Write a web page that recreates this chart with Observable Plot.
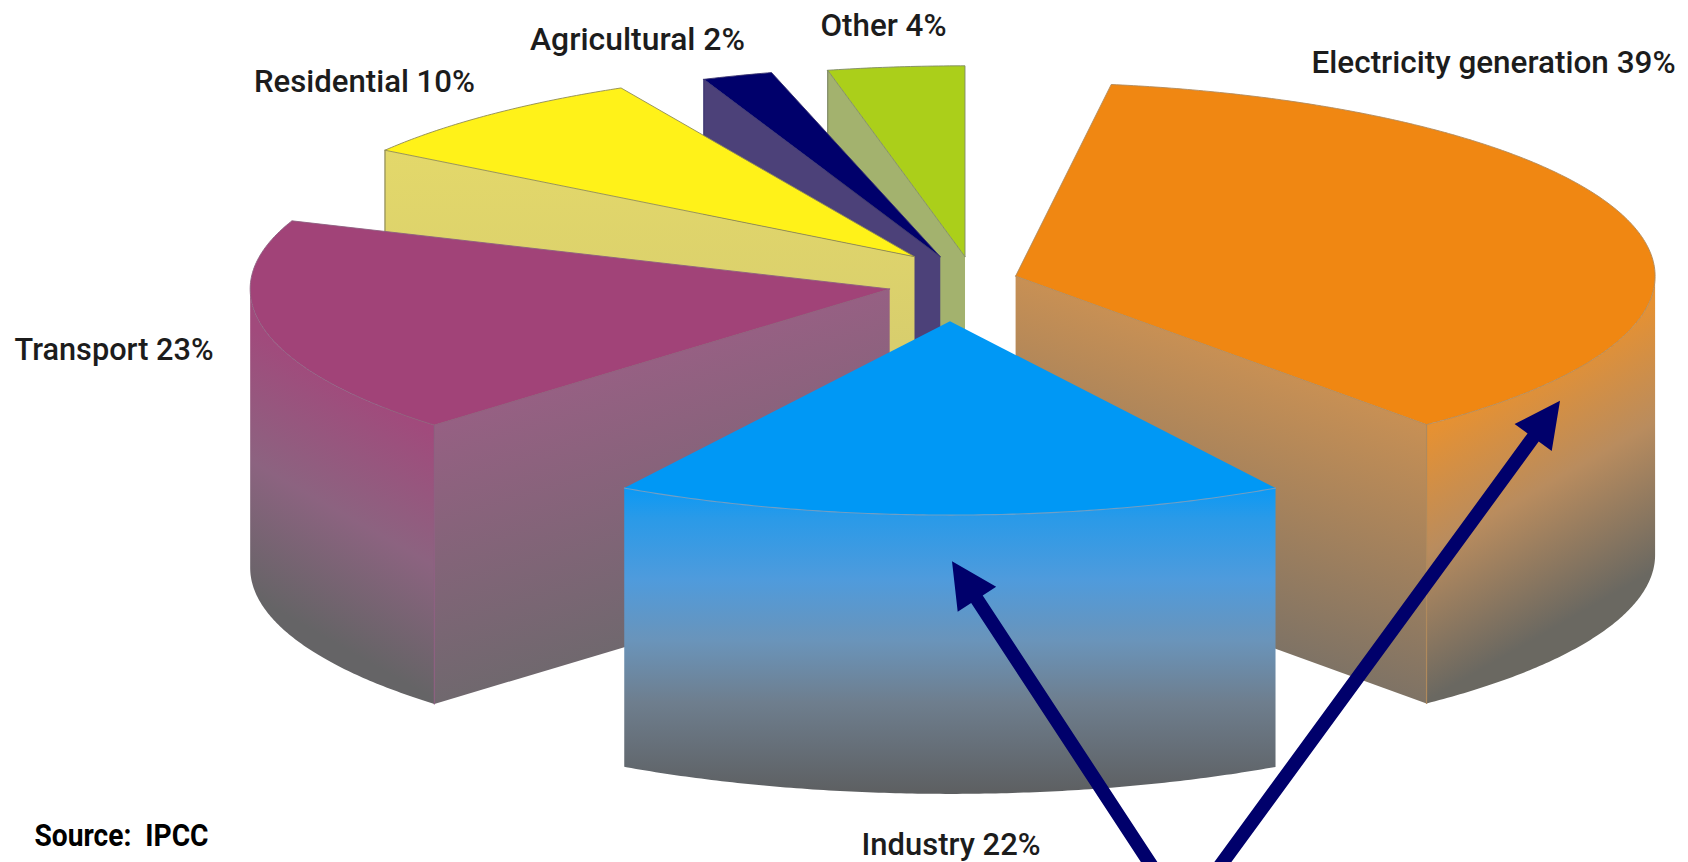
<!DOCTYPE html>
<html>
<head>
<meta charset="utf-8">
<title>Greenhouse gas emissions by sector</title>
<script src="https://cdn.jsdelivr.net/npm/d3@7"></script>
<script src="https://cdn.jsdelivr.net/npm/@observablehq/plot@0.6"></script>
<style>
  html, body { margin: 0; padding: 0; background: #fff; }
  svg { display: block; }
</style>
</head>
<body>
<div id="chart"></div>
<script>
// Sector shares, in percent, listed from the back of the pie to the front.
const sectors = ["Other", "Agricultural", "Residential", "Transport", "Electricity generation", "Industry"];
const shares = [4, 2, 10, 23, 39, 22];

// How each wedge sits in the tilted pie: clockwise start angle from 12 o'clock,
// the narrowing the perspective applies to its sweep, how far it is pulled out
// of the centre (in pie radii along each axis), and the flattening of its far rim.
const startAngles = [347.6, 338.3, 304.1, 225.4, 8.6, 149.4];
const narrowing = [0.861, 0.889, 0.794, 0.79, 0.936, 0.773];
const explodeX = [0.0227, -0.016, -0.0563, -0.0951, 0.1018, -0.0008];
const explodeY = [-0.0712, -0.0712, -0.0712, 0.0955, 0.029, 0.262];
const farRim = [0.985, 0.985, 0.98, 0.99, 1, 1];

// Page metrics of the projected pie.
const W = 1688, H = 862;
const centreX = 950, centreY = 270, radiusX = 639.5, radiusY = 193.8;
const thickness = 1.4387;

const topColors = ["#abcf1a", "#00006b", "#fff219", "#a14378", "#f08712", "#0098f5"];
const cutFills = ["#a3b26e", "#4c4179", "url(#cut-residential)", "url(#cut-transport)", "url(#cut-electricity)", "none"];
const rimFills = ["none", "none", "none", "url(#rim-transport)", "url(#rim-electricity)", "url(#rim-industry)"];
const edgeColors = ["#7f8a66", "#3a3470", "#8f8a55", "#8d5f80", "#b08a5c", "#6f9fc6"];

const defs = () => d3.create("svg:defs").html(`
  <linearGradient id="cut-residential" x1="0" y1="0" x2="0" y2="1">
    <stop offset="0" stop-color="#e3d86a"/><stop offset="1" stop-color="#cdc470"/>
  </linearGradient>
  <linearGradient id="cut-transport" gradientUnits="userSpaceOnUse" x1="434" y1="423" x2="509" y2="680">
    <stop offset="0" stop-color="#966083"/><stop offset="1" stop-color="#70686e"/>
  </linearGradient>
  <linearGradient id="cut-electricity" gradientUnits="userSpaceOnUse" x1="1426" y1="422" x2="1338" y2="670">
    <stop offset="0" stop-color="#c89054"/><stop offset="1" stop-color="#7f7365"/>
  </linearGradient>
  <linearGradient id="rim-transport" gradientUnits="userSpaceOnUse" x1="434" y1="431" x2="319" y2="634">
    <stop offset="0" stop-color="#a14a7c"/><stop offset="0.5" stop-color="#8c6380"/><stop offset="1" stop-color="#656466"/>
  </linearGradient>
  <linearGradient id="rim-electricity" gradientUnits="userSpaceOnUse" x1="1426" y1="431" x2="1542" y2="634">
    <stop offset="0" stop-color="#e69132"/><stop offset="0.45" stop-color="#b98c5e"/><stop offset="1" stop-color="#6a6861"/>
  </linearGradient>
  <linearGradient id="rim-industry" x1="0" y1="0" x2="0" y2="1">
    <stop offset="0" stop-color="#0b99f4"/><stop offset="0.1" stop-color="#2a9ae8"/>
    <stop offset="0.3" stop-color="#4f9bdc"/><stop offset="0.5" stop-color="#6a94ba"/>
    <stop offset="0.7" stop-color="#6e7e8e"/><stop offset="1" stop-color="#5d5f61"/>
  </linearGradient>`).node();

const rad = (deg) => (deg * Math.PI) / 180;

const wedges = sectors.map((name, i) => ({
  name,
  share: shares[i],
  start: startAngles[i],
  end: startAngles[i] + shares[i] * 3.6 * narrowing[i],
  dx: explodeX[i],
  dy: explodeY[i],
  far: farRim[i]
}));

// Point on a wedge's outer rim at angle a, lowered by the given depth.
const rimPoint = (w, a, depth = 0) => {
  const c = Math.cos(rad(a));
  return {x: w.dx + Math.sin(rad(a)), y: w.dy - c * (c > 0 ? w.far : 1) + depth};
};
const apex = (w, depth = 0) => ({x: w.dx, y: w.dy + depth});
const sweep = (from, to) => d3.range(from, to, 0.5).concat(to);

const polygon = (points, fill) =>
  Plot.line(points, {x: "x", y: "y", fill, stroke: "none", curve: "linear"});
const outline = (points, stroke, strokeWidth = 1.1) =>
  Plot.line(points, {x: "x", y: "y", stroke, strokeWidth, curve: "linear"});

function wedgeMarks(w, i) {
  const marks = [];
  const edge = edgeColors[i];

  // Outer wall, only where the rim faces the viewer.
  const from = Math.max(w.start, 90), to = Math.min(w.end, 270);
  if (rimFills[i] !== "none" && from < to) {
    const angles = sweep(from, to);
    marks.push(polygon(
      angles.map((a) => rimPoint(w, a)).concat(angles.slice().reverse().map((a) => rimPoint(w, a, thickness))),
      rimFills[i]
    ));
  }

  // Cut wall facing the viewer.
  const cutAngle = w.end < 180 ? w.end : w.start > 180 ? w.start : null;
  if (cutAngle !== null) {
    marks.push(polygon(
      [apex(w), rimPoint(w, cutAngle), rimPoint(w, cutAngle, thickness), apex(w, thickness)],
      cutFills[i]
    ));
    marks.push(outline([rimPoint(w, cutAngle), rimPoint(w, cutAngle, thickness)], edge, 1.2));
  }

  // Top face and its outline.
  const arc = sweep(w.start, w.end).map((a) => rimPoint(w, a));
  marks.push(polygon([apex(w), ...arc], topColors[i]));
  if (w.name === "Industry") marks.push(outline(arc, edge));
  else marks.push(outline([apex(w), ...arc, apex(w)], edge, 0.9));
  return marks;
}

// Sector captions, placed on the page in pie units, with their set widths in pixels.
const captionX = [-0.1048, -0.4895, -0.9164, -1.3080, 0.8492, 0.0009];
const captionY = [-1.2642, -1.1920, -0.9752, 0.4076, -1.0732, 2.9630];
const captionWidths = [126, 215, 221, 199, 364, 179];
const captions = wedges.map((w, i) => ({
  x: captionX[i],
  y: captionY[i],
  label: `${w.name} ${w.share}%`
}));

// Page-space pointers: tip and a point on the shaft just below the page edge.
const pointerTips = [[951.5, 560.7], [1559.5, 400.3]];
const pointerTails = [[1166, 888], [1203, 888]];

function pointerPolygon([tx, ty], [bx, by]) {
  const len = Math.hypot(bx - tx, by - ty);
  const u = [(bx - tx) / len, (by - ty) / len], n = [-u[1], u[0]];
  const at = (along, across) => ({
    x: (tx + u[0] * along + n[0] * across - centreX) / radiusX,
    y: (ty + u[1] * along + n[1] * across - centreY) / radiusY
  });
  return [at(0, 0), at(45.5, 23), at(45.5, 6.9), at(len, 6.9), at(len, -6.9), at(45.5, -6.9), at(45.5, -23), at(0, 0)];
}

const labelFont = "Roboto, 'Liberation Sans', sans-serif";

const chart = Plot.plot({
  width: W,
  height: H,
  margin: 0,
  style: {background: "#fff"},
  x: {axis: null, domain: [-centreX / radiusX, (W - centreX) / radiusX], range: [0, W]},
  y: {axis: null, domain: [-centreY / radiusY, (H - centreY) / radiusY], range: [0, H]},
  marks: [
    defs,
    ...wedges.flatMap(wedgeMarks),
    ...pointerTips.map((tip, i) =>
      Plot.line(pointerPolygon(tip, pointerTails[i]), {x: "x", y: "y", fill: "#00006b", stroke: "none", curve: "linear", clip: true})
    ),
    Plot.text(captions, {
      x: "x", y: "y", text: "label",
      fontFamily: labelFont, fontWeight: 500,
      fontSize: 32, fill: "#1c1c1c", textAnchor: "middle", lineAnchor: "middle",
      className: "caption"
    }),
    Plot.text(["Source:  IPCC"], {
      x: (34 - centreX) / radiusX,
      y: (836 - centreY) / radiusY,
      fontFamily: labelFont,
      fontWeight: "bold", fontSize: 31, fill: "#000", textAnchor: "start", lineAnchor: "middle",
      className: "source"
    })
  ]
});

// The captions are set in a condensed measure.
const fitText = (selection, width) => selection
  .attr("textLength", width)
  .attr("lengthAdjust", "spacingAndGlyphs");
d3.select(chart).selectAll(".caption text").each(function (_, i) {
  fitText(d3.select(this), captionWidths[i]);
});
fitText(d3.select(chart).selectAll(".source text"), 174);

document.getElementById("chart").append(chart);
</script>
</body>
</html>
